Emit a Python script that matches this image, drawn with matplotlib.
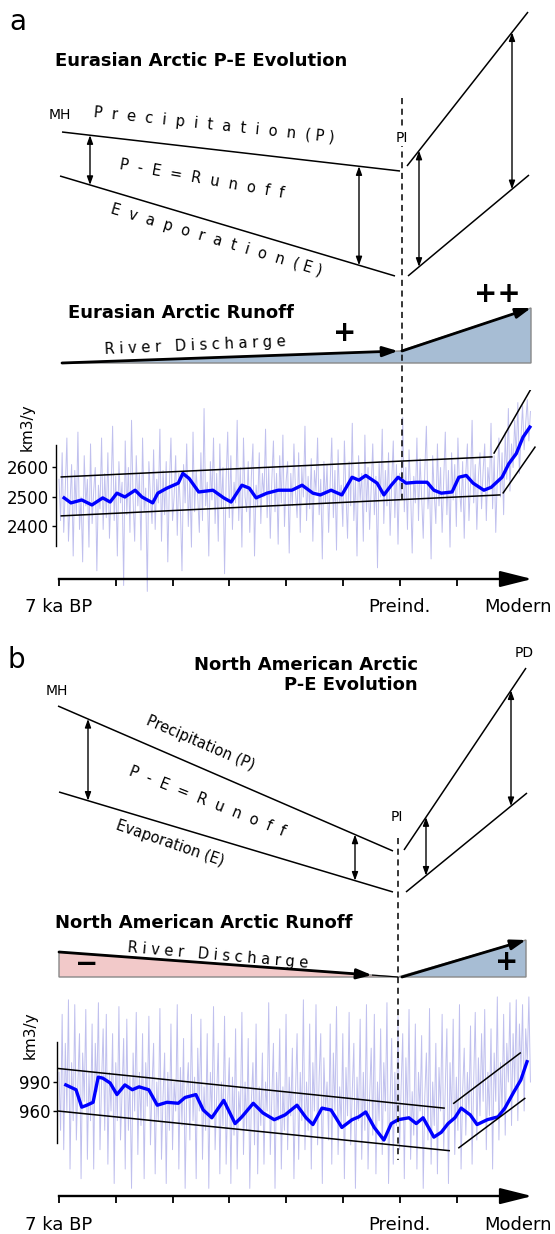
import numpy as np
import matplotlib.pyplot as plt
from matplotlib.patches import Polygon

W, H = 555, 1234

# time axis: one unit = one tick step, 0 = 7 ka BP, 6 = preindustrial
tick_pos = [0, 1, 2, 3, 4, 5, 6, 7]
tick_lab = ["7 ka BP", "", "", "", "", "", "Preind.", ""]
modern_pos = 8.08

# ---- Eurasian Arctic runoff (km3/y) ----
ea_smooth_t = [0.09, 0.21, 0.40, 0.58, 0.77, 0.90, 1.02, 1.16, 1.34, 1.46, 1.65, 1.74, 1.90, 2.10,
               2.18, 2.29, 2.46, 2.71, 2.90, 3.03, 3.22, 3.35, 3.47, 3.66, 3.86, 4.10, 4.28, 4.47,
               4.60, 4.79, 4.98, 5.16, 5.28, 5.40, 5.60, 5.72, 5.85, 5.97, 6.11, 6.29, 6.48, 6.60,
               6.73, 6.92, 7.04, 7.17, 7.29, 7.48, 7.61, 7.80, 7.92, 8.05, 8.17, 8.29]
ea_smooth_v = [2497, 2480, 2490, 2473, 2497, 2483, 2513, 2500, 2523, 2500, 2480, 2513, 2530, 2547,
               2580, 2563, 2517, 2523, 2497, 2483, 2540, 2530, 2497, 2513, 2523, 2523, 2540, 2513,
               2507, 2523, 2507, 2567, 2557, 2573, 2547, 2507, 2540, 2567, 2547, 2550, 2550, 2523,
               2513, 2517, 2567, 2573, 2547, 2523, 2533, 2567, 2613, 2647, 2703, 2737]
ea_raw = [2560, 2420, 2650, 2380, 2530, 2700, 2350, 2480, 2610, 2300,
          2590, 2440, 2720, 2390, 2500, 2280, 2640, 2470, 2560, 2330,
          2680, 2410, 2520, 2600, 2250, 2540, 2460, 2700, 2390, 2580,
          2430, 2650, 2360, 2510, 2740, 2420, 2570, 2300, 2620, 2480,
          2550, 2200, 2690, 2440, 2600, 2380, 2760, 2490, 2350, 2640,
          2470, 2580, 2320, 2700, 2450, 2530, 2180, 2620, 2500, 2410,
          2660, 2390, 2560, 2480, 2730, 2350, 2590, 2440, 2620, 2280,
          2540, 2700, 2420, 2500, 2640, 2370, 2580, 2460, 2250, 2610,
          2480, 2680, 2400, 2560, 2330, 2720, 2450, 2590, 2500, 2380,
          2650, 2420, 2800, 2470, 2550, 2300, 2620, 2490, 2700, 2410,
          2580, 2350, 2680, 2460, 2600, 2240, 2560, 2720, 2430, 2640,
          2390, 2550, 2480, 2760, 2420, 2600, 2330, 2700, 2500, 2450,
          2620, 2380, 2570, 2680, 2300, 2540, 2470, 2650, 2410, 2580,
          2500, 2730, 2430, 2600, 2360, 2560, 2690, 2450, 2580, 2340,
          2640, 2480, 2710, 2400, 2550, 2620, 2310, 2580, 2470, 2680,
          2520, 2430, 2650, 2380, 2600, 2500, 2740, 2420, 2570, 2460,
          2630, 2350, 2590, 2520, 2700, 2440, 2560, 2290, 2620, 2480,
          2610, 2380, 2550, 2700, 2430, 2590, 2320, 2660, 2480, 2540,
          2400, 2690, 2510, 2360, 2620, 2470, 2750, 2420, 2560, 2300,
          2640, 2490, 2580, 2350, 2710, 2450, 2600, 2390, 2530, 2680,
          2440, 2570, 2260, 2620, 2500, 2730, 2410, 2590, 2470, 2650,
          2370, 2550, 2690, 2430, 2610, 2340, 2580, 2500, 2770, 2450,
          2600, 2390, 2660, 2520, 2310, 2570, 2480, 2700, 2420, 2630,
          2500, 2360, 2590, 2740, 2460, 2550, 2290, 2640, 2510, 2410,
          2680, 2470, 2600, 2380, 2560, 2720, 2440, 2590, 2330, 2650,
          2490, 2610, 2400, 2700, 2530, 2450, 2620, 2360, 2580, 2680,
          2420, 2550, 2760, 2480, 2610, 2390, 2570, 2650, 2460, 2590,
          2680, 2420, 2600, 2530, 2750, 2460, 2640, 2380, 2570, 2700,
          2500, 2650, 2440, 2720, 2560, 2800, 2520, 2680, 2600, 2760,
          2640, 2820, 2580, 2700, 2810, 2660, 2750, 2830, 2690, 2790]
ea_trend_hi = [(0.04, 2568), (7.62, 2636)]
ea_trend_lo = [(0.04, 2436), (7.76, 2507)]
ea_jump_hi = [(7.66, 2649), (8.38, 2890)]
ea_jump_lo = [(7.82, 2514), (8.38, 2669)]
ea_yticks = [2400, 2500, 2600]

# ---- North American Arctic runoff (km3/y) ----
na_smooth_t = [0.12, 0.30, 0.40, 0.49, 0.60, 0.69, 0.77, 0.90, 1.02, 1.16, 1.29, 1.41, 1.58, 1.73,
               1.90, 2.10, 2.22, 2.41, 2.54, 2.69, 2.90, 3.10, 3.22, 3.42, 3.59, 3.79, 3.98, 4.19,
               4.35, 4.47, 4.63, 4.79, 4.98, 5.16, 5.28, 5.40, 5.55, 5.72, 5.85, 5.97, 6.16, 6.29,
               6.41, 6.60, 6.73, 6.85, 6.97, 7.08, 7.24, 7.36, 7.54, 7.73, 7.85, 8.01, 8.13, 8.24]
na_smooth_v = [987, 982, 964, 966, 969, 995, 994, 989, 977, 987, 982, 985, 982, 966,
               969, 968, 974, 977, 961, 953, 971, 947, 954, 968, 958, 951, 956, 966,
               953, 946, 963, 961, 943, 951, 954, 959, 943, 930, 947, 951, 953, 947,
               953, 933, 938, 947, 953, 963, 956, 946, 951, 954, 963, 980, 992, 1011]
na_raw = [1000, 940, 1060, 920, 1030, 960, 1075, 900, 1010, 950,
          1070, 930, 990, 1040, 890, 1020, 970, 1065, 910, 1000,
          950, 1050, 900, 1030, 980, 1072, 920, 990, 1045, 940,
          1060, 905, 1000, 960, 1040, 885, 1010, 950, 1068, 930,
          980, 1035, 900, 1055, 940, 995, 880, 1020, 960, 1062,
          915, 1000, 945, 1040, 890, 1010, 965, 1058, 925, 985,
          1030, 895, 990, 950, 1066, 910, 975, 1020, 885, 1000,
          940, 1050, 920, 990, 960, 1070, 900, 1005, 945, 1035,
          880, 980, 1010, 930, 1060, 950, 995, 890, 1025, 960,
          1055, 910, 985, 940, 1040, 880, 1000, 955, 1068, 920,
          975, 1030, 895, 990, 945, 1058, 905, 970, 1015, 885,
          995, 935, 1045, 900, 980, 950, 1062, 915, 990, 940,
          1035, 880, 970, 1010, 925, 1050, 895, 985, 945, 1020,
          905, 990, 960, 1072, 915, 975, 1030, 880, 1000, 950,
          1045, 900, 985, 940, 1060, 920, 995, 955, 1025, 890,
          980, 1040, 910, 1000, 950, 1075, 920, 990, 940, 1050,
          900, 1010, 960, 1070, 925, 995, 1040, 885, 1015, 960,
          990, 930, 1050, 905, 1020, 960, 1068, 915, 985, 945,
          1040, 890, 1005, 955, 1062, 925, 980, 1030, 880, 995,
          950, 1055, 910, 1000, 940, 1070, 900, 975, 1025, 935,
          1060, 895, 990, 950, 1045, 915, 1010, 960, 1072, 885,
          970, 1035, 905, 1000, 945, 1058, 920, 985, 1040, 890,
          1015, 955, 1065, 910, 980, 935, 1050, 900, 1000, 960,
          1038, 880, 975, 1020, 930, 1066, 905, 990, 945, 1030,
          895, 1005, 960, 1060, 920, 985, 1045, 885, 1010, 950,
          1055, 915, 995, 940, 1070, 900, 980, 1025, 935, 1000,
          960, 1048, 905, 990, 1062, 930, 1015, 955, 1040, 970,
          1065, 920, 1000, 955, 1045, 900, 1020, 970, 1078, 930,
          1010, 960, 1060, 935, 1030, 990, 1072, 945, 1040, 985,
          1075, 950, 1050, 1000, 1070, 960, 1045, 1010, 1078, 990]
na_trend_hi = [(-0.02, 1004), (6.78, 963)]
na_trend_lo = [(-0.02, 960), (6.87, 919)]
na_jump_hi = [(6.95, 968), (8.12, 1020)]
na_jump_lo = [(7.04, 922), (8.20, 973)]
na_yticks = [960, 990]

# ---- schematic geometry (figure pixels, y down) ----
ea_P = [(62, 132), (400, 171)]
ea_E = [(60, 176), (395, 276)]
ea_P2 = [(407, 166), (528, 12)]
ea_E2 = [(408, 276), (529, 175)]
ea_arrows_x = [90, 359]
ea_arrows2_x = [419, 512]
ea_runoff = [(62, 363), (400, 351), (531, 308), (531, 363)]

na_P = [(58, 706), (393, 851)]
na_E = [(59, 792), (393, 892)]
na_P2 = [(404, 850), (526, 668)]
na_E2 = [(406, 892), (527, 793)]
na_arrows_x = [88, 355]
na_arrows2_x = [426, 511]
na_neg = [(59, 952), (398, 977), (59, 977)]
na_pos = [(398, 977), (526, 940), (526, 977)]

fig = plt.figure(figsize=(W / 100, H / 100), dpi=100)

PXU, X0 = 56.8, 59


def series_axes(y_ref_px, y_ref_val, ppu, top_px, bot_px):
    l, r = -0.1, 8.5
    ax = fig.add_axes([(X0 + l * PXU) / W, 1 - bot_px / H, (r - l) * PXU / W, (bot_px - top_px) / H])
    ax.set_xlim(l, r)
    ax.set_ylim(y_ref_val - (bot_px - y_ref_px) / ppu, y_ref_val + (y_ref_px - top_px) / ppu)
    ax.patch.set_visible(False)
    return ax


def draw_series(ax, raw, st, sv, hi, lo, jhi, jlo, yticks, xaxis_y, ybounds, spine_x):
    t_raw = np.linspace(0, 8.3, len(raw))
    ax.plot(t_raw, raw, color="#4040cc", lw=0.7, alpha=0.33)
    ax.plot(st, sv, color="blue", lw=2.4)
    for seg in (hi, lo, jhi, jlo):
        ax.plot([seg[0][0], seg[1][0]], [seg[0][1], seg[1][1]], color="k", lw=1.1)
    for s in ("top", "right"):
        ax.spines[s].set_visible(False)
    ax.spines["left"].set_position(("data", spine_x))
    ax.spines["left"].set_bounds(*ybounds)
    ax.spines["left"].set_linewidth(1.0)
    ax.spines["bottom"].set_position(("data", xaxis_y))
    ax.spines["bottom"].set_bounds(0, 8.1)
    ax.spines["bottom"].set_linewidth(1.7)
    ax.set_yticks(yticks)
    ax.tick_params(axis="y", labelsize=12, length=3, width=1, pad=2)
    ax.set_xticks(tick_pos)
    ax.set_xticklabels(tick_lab)
    ax.tick_params(axis="x", labelsize=13, length=5, width=1.3, pad=9)
    ax.annotate("", xy=(8.33, xaxis_y), xytext=(7.9, xaxis_y),
                arrowprops=dict(arrowstyle="-|>,head_length=1.4,head_width=0.35",
                                mutation_scale=14, color="k", lw=1.7, shrinkA=0, shrinkB=0))
    ax.annotate("Modern", xy=(modern_pos, xaxis_y), xytext=(0, -14), textcoords="offset points",
                ha="center", va="top", fontsize=13)


axa = series_axes(497, 2500, 0.295, 390, 600)
draw_series(axa, ea_raw, ea_smooth_t, ea_smooth_v, ea_trend_hi, ea_trend_lo, ea_jump_hi, ea_jump_lo,
            ea_yticks, 2222, (2334, 2676), -0.053)

axb = series_axes(1082, 990, 0.967, 990, 1215)
draw_series(axb, na_raw, na_smooth_t, na_smooth_v, na_trend_hi, na_trend_lo, na_jump_hi, na_jump_lo,
            na_yticks, 872, (927, 1031), -0.035)

# overlay axes for the schematic parts
ov = fig.add_axes([0, 0, 1, 1])
ov.set_xlim(0, W)
ov.set_ylim(H, 0)
ov.axis("off")
ov.patch.set_visible(False)


def yat(line, x):
    (x1, y1), (x2, y2) = line
    return y1 + (y2 - y1) * (x - x1) / (x2 - x1)


def line(seg, **kw):
    ov.plot([p[0] for p in seg], [p[1] for p in seg], color="k", lw=kw.get("lw", 1.1),
            solid_capstyle="butt")


def darrow(x, top, bot):
    ov.annotate("", xy=(x, top), xytext=(x, bot),
                arrowprops=dict(arrowstyle="<|-|>,head_length=0.5,head_width=0.18",
                                mutation_scale=10, color="k", lw=1.0, shrinkA=0, shrinkB=0))


def harrow(p0, p1):
    ov.annotate("", xy=p1, xytext=p0,
                arrowprops=dict(arrowstyle="-|>,head_length=0.9,head_width=0.3",
                                mutation_scale=10, color="k", lw=2.0, shrinkA=0, shrinkB=0))


def sch_text(x, y, s, rot=0, size=10.5, **kw):
    return ov.text(x, y, s, rotation=rot, rotation_mode="anchor", ha=kw.pop("ha", "center"),
                   va=kw.pop("va", "center"), fontsize=size, **kw)


# panel labels
ov.text(9, 30, "a", fontsize=20, ha="left", va="baseline")
ov.text(8, 668, "b", fontsize=20, ha="left", va="baseline")

# ---- panel a schematic ----
sch_text(55, 61, "Eurasian Arctic P-E Evolution", size=13, weight="bold", ha="left")
for seg in (ea_P, ea_E, ea_P2, ea_E2):
    line(seg)
for x in ea_arrows_x:
    darrow(x, yat(ea_P, x), yat(ea_E, x))
for x in ea_arrows2_x:
    darrow(x, yat(ea_P2, x), yat(ea_E2, x))
ov.plot([402, 402], [98, 503], color="k", lw=1.1, ls=(0, (4, 3)))
sch_text(60, 115, "MH", size=10)
sch_text(402, 138, "PI", size=10,
         bbox=dict(facecolor="white", edgecolor="none", pad=1))
sch_text(214, 125, "P  r  e  c  i  p  i  t  a  t  i  o  n  ( P )", rot=-6)
sch_text(202, 179, "P  -  E  =  R  u  n  o  f  f", rot=-10)
sch_text(216, 240, "E  v  a  p  o  r  a  t  i  o  n  ( E )", rot=-16.6)

sch_text(68, 313, "Eurasian Arctic Runoff", size=13, weight="bold", ha="left")
ov.add_patch(Polygon(ea_runoff, closed=True, facecolor="#a7bdd4", edgecolor="#888888", lw=1.0))
harrow(ea_runoff[0], (ea_runoff[1][0] - 2, ea_runoff[1][1]))
harrow((ea_runoff[1][0] + 2, ea_runoff[1][1]), ea_runoff[2])
sch_text(195, 346, "R i v e r   D i s c h a r g e", rot=2.5)
sch_text(345, 333, "+", size=20, weight="bold")
sch_text(497, 294, "++", size=20, weight="bold")
ov.text(27, 427, "km3/y", rotation=90, ha="center", va="center", fontsize=11)

# ---- panel b schematic ----
sch_text(418, 675, "North American Arctic\nP-E Evolution", size=13, weight="bold", ha="right",
         multialignment="right", linespacing=1.15)
for seg in (na_P, na_E, na_P2, na_E2):
    line(seg)
for x in na_arrows_x:
    darrow(x, yat(na_P, x), yat(na_E, x))
for x in na_arrows2_x:
    darrow(x, yat(na_P2, x), yat(na_E2, x))
sch_text(57, 691, "MH", size=10)
sch_text(397, 817, "PI", size=10)
sch_text(524, 653, "PD", size=10)
sch_text(200, 743, "Precipitation (P)", rot=-23.3)
sch_text(207, 801, "P  -  E  =  R  u  n  o  f  f", rot=-21.6)
sch_text(170, 843, "Evaporation (E)", rot=-19)

sch_text(55, 923, "North American Arctic Runoff", size=13, weight="bold", ha="left")
ov.add_patch(Polygon(na_neg, closed=True, facecolor="#f2c9c9", edgecolor="#888888", lw=1.0))
ov.add_patch(Polygon(na_pos, closed=True, facecolor="#a7bdd4", edgecolor="#888888", lw=1.0))
harrow(na_neg[0], (372, yat([na_neg[0], na_neg[1]], 372)))
line([(372, yat([na_neg[0], na_neg[1]], 372)), na_neg[1]], lw=0.8)
harrow((na_pos[0][0] + 4, na_pos[0][1]), na_pos[1])
sch_text(218, 955, "R i v e r   D i s c h a r g e", rot=-5)
sch_text(87, 964, "\u2212", size=20, weight="bold")
sch_text(507, 962, "+", size=20, weight="bold")
ov.plot([398, 398], [838, 1160], color="k", lw=1.1, ls=(0, (4, 3)))
ov.text(30, 1035, "km3/y", rotation=90, ha="center", va="center", fontsize=11)

fig.savefig("out.png", dpi=100)
